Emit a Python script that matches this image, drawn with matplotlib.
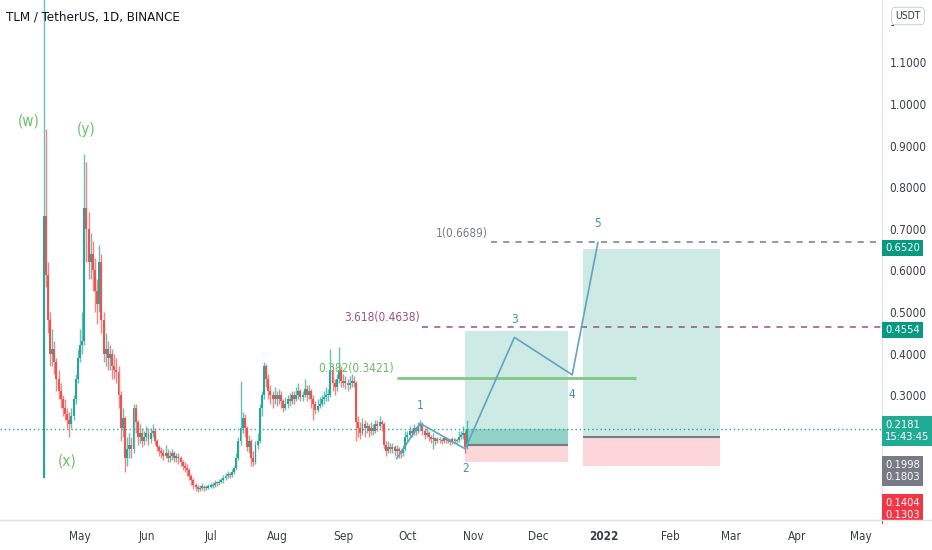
import numpy as np
import pandas as pd
import matplotlib
matplotlib.use('Agg')
import matplotlib.pyplot as plt
import matplotlib.dates as mdates
from matplotlib import font_manager
from matplotlib.patches import Rectangle
from matplotlib.lines import Line2D

# daily TLM/USDT candles, first day 2021-04-14
start = '2021-04-14'
first_open = 0.10
close = [0.73, 0.59, 0.48, 0.40, 0.41, 0.38, 0.34, 0.31, 0.29, 0.27,
         0.255, 0.24, 0.23, 0.25, 0.29, 0.34, 0.39, 0.42, 0.43, 0.75,
         0.70, 0.62, 0.64, 0.60, 0.55, 0.52, 0.62, 0.48, 0.40, 0.41,
         0.39, 0.40, 0.37, 0.36, 0.355, 0.30, 0.22, 0.245, 0.15, 0.17,
         0.18, 0.17, 0.27, 0.235, 0.20, 0.21, 0.19, 0.20, 0.21, 0.195,
         0.21, 0.215, 0.19, 0.175, 0.165, 0.16, 0.155, 0.16, 0.15, 0.155,
         0.16, 0.15, 0.152, 0.148, 0.14, 0.13, 0.125, 0.12, 0.105, 0.095,
         0.085, 0.08, 0.075, 0.078, 0.08, 0.076, 0.078, 0.08, 0.082, 0.085,
         0.09, 0.088, 0.092, 0.095, 0.10, 0.105, 0.11, 0.108, 0.115, 0.125,
         0.15, 0.19, 0.22, 0.245, 0.22, 0.175, 0.19, 0.15, 0.14, 0.18,
         0.19, 0.27, 0.30, 0.37, 0.34, 0.31, 0.30, 0.29, 0.30, 0.29,
         0.30, 0.285, 0.27, 0.28, 0.29, 0.285, 0.30, 0.29, 0.30, 0.31,
         0.295, 0.30, 0.315, 0.30, 0.31, 0.29, 0.28, 0.265, 0.275, 0.28,
         0.29, 0.295, 0.30, 0.30, 0.36, 0.33, 0.32, 0.34, 0.36, 0.335,
         0.33, 0.33, 0.325, 0.33, 0.335, 0.33, 0.235, 0.22, 0.21, 0.23,
         0.22, 0.225, 0.215, 0.22, 0.215, 0.23, 0.225, 0.235, 0.23, 0.18,
         0.165, 0.175, 0.17, 0.175, 0.165, 0.17, 0.165, 0.16, 0.17, 0.20,
         0.205, 0.215, 0.21, 0.22, 0.215, 0.225, 0.23, 0.215, 0.205, 0.21,
         0.20, 0.195, 0.198, 0.19, 0.195, 0.192, 0.19, 0.196, 0.193, 0.19,
         0.188, 0.195, 0.19, 0.192, 0.20, 0.205, 0.21, 0.175, 0.218]
high = [1.60, 0.94, 0.62, 0.50, 0.46, 0.43, 0.39, 0.36, 0.33, 0.30,
        0.29, 0.27, 0.26, 0.27, 0.30, 0.35, 0.41, 0.46, 0.50, 0.88,
        0.86, 0.74, 0.69, 0.67, 0.63, 0.58, 0.66, 0.64, 0.50, 0.45,
        0.43, 0.42, 0.41, 0.40, 0.39, 0.37, 0.31, 0.27, 0.25, 0.20,
        0.21, 0.20, 0.28, 0.28, 0.24, 0.23, 0.22, 0.215, 0.225, 0.22,
        0.22, 0.23, 0.22, 0.195, 0.18, 0.175, 0.17, 0.18, 0.17, 0.165,
        0.17, 0.165, 0.16, 0.16, 0.155, 0.145, 0.14, 0.135, 0.125, 0.11,
        0.10, 0.09, 0.085, 0.085, 0.088, 0.085, 0.084, 0.086, 0.088, 0.092,
        0.096, 0.094, 0.098, 0.102, 0.108, 0.112, 0.118, 0.115, 0.122, 0.13,
        0.16, 0.20, 0.335, 0.26, 0.255, 0.225, 0.205, 0.195, 0.165, 0.19,
        0.21, 0.28, 0.31, 0.38, 0.375, 0.35, 0.325, 0.31, 0.32, 0.31,
        0.315, 0.31, 0.29, 0.295, 0.30, 0.305, 0.31, 0.31, 0.32, 0.33,
        0.315, 0.31, 0.34, 0.325, 0.325, 0.315, 0.30, 0.285, 0.29, 0.295,
        0.30, 0.31, 0.32, 0.315, 0.41, 0.37, 0.34, 0.35, 0.415, 0.37,
        0.35, 0.345, 0.34, 0.345, 0.35, 0.345, 0.335, 0.25, 0.235, 0.245,
        0.24, 0.235, 0.23, 0.235, 0.23, 0.24, 0.24, 0.25, 0.24, 0.235,
        0.19, 0.19, 0.185, 0.185, 0.18, 0.18, 0.175, 0.17, 0.18, 0.215,
        0.215, 0.225, 0.22, 0.23, 0.225, 0.235, 0.24, 0.235, 0.22, 0.22,
        0.215, 0.205, 0.21, 0.20, 0.20, 0.20, 0.198, 0.20, 0.20, 0.198,
        0.195, 0.20, 0.198, 0.198, 0.215, 0.215, 0.225, 0.215, 0.24]
low = [0.10, 0.56, 0.45, 0.37, 0.37, 0.35, 0.31, 0.29, 0.27, 0.25,
       0.24, 0.22, 0.20, 0.22, 0.24, 0.28, 0.33, 0.38, 0.40, 0.42,
       0.62, 0.58, 0.58, 0.55, 0.50, 0.47, 0.50, 0.45, 0.38, 0.37,
       0.36, 0.36, 0.34, 0.34, 0.33, 0.27, 0.19, 0.20, 0.115, 0.13,
       0.15, 0.15, 0.16, 0.21, 0.18, 0.185, 0.175, 0.18, 0.19, 0.18,
       0.185, 0.20, 0.18, 0.165, 0.155, 0.15, 0.145, 0.15, 0.14, 0.14,
       0.145, 0.14, 0.14, 0.135, 0.13, 0.12, 0.115, 0.105, 0.095, 0.085,
       0.075, 0.07, 0.068, 0.07, 0.072, 0.07, 0.072, 0.074, 0.076, 0.078,
       0.08, 0.082, 0.085, 0.088, 0.09, 0.095, 0.10, 0.10, 0.104, 0.11,
       0.12, 0.145, 0.18, 0.21, 0.20, 0.165, 0.16, 0.13, 0.13, 0.135,
       0.17, 0.185, 0.25, 0.29, 0.32, 0.29, 0.28, 0.27, 0.28, 0.275,
       0.28, 0.27, 0.26, 0.265, 0.27, 0.275, 0.28, 0.28, 0.285, 0.29,
       0.285, 0.285, 0.295, 0.285, 0.29, 0.27, 0.24, 0.255, 0.26, 0.27,
       0.275, 0.28, 0.285, 0.285, 0.295, 0.31, 0.30, 0.31, 0.33, 0.32,
       0.32, 0.315, 0.31, 0.315, 0.32, 0.32, 0.19, 0.20, 0.195, 0.205,
       0.20, 0.21, 0.20, 0.205, 0.205, 0.21, 0.215, 0.22, 0.215, 0.17,
       0.155, 0.16, 0.16, 0.16, 0.155, 0.155, 0.15, 0.148, 0.155, 0.165,
       0.19, 0.20, 0.20, 0.205, 0.205, 0.21, 0.215, 0.205, 0.195, 0.20,
       0.19, 0.185, 0.17, 0.18, 0.185, 0.185, 0.183, 0.185, 0.186, 0.184,
       0.18, 0.183, 0.184, 0.185, 0.188, 0.195, 0.195, 0.162, 0.17]

last_price = 0.2181

# elliott count drawn on the chart
wave_dates = ['2021-09-26', '2021-10-07', '2021-10-28', '2021-11-20', '2021-12-17', '2021-12-29']
wave_vals = [0.148, 0.232, 0.171, 0.439, 0.349, 0.667]
wave_names = ['', '1', '2', '3', '4', '5']
corr_labels = ['(w)', '(y)', '(x)']
corr_dates = ['2021-04-07', '2021-05-04', '2021-04-25']
corr_vals = [0.958, 0.939, 0.143]

# fib levels
fib_labels = ['0.382(0.3421)', '3.618(0.4638)', '1(0.6689)']
fib_vals = [0.3421, 0.4638, 0.6689]
fib_start = ['2021-09-26', '2021-10-08', '2021-11-09']
fib_end = ['2022-01-16', None, None]

# long position tools
pos_start = ['2021-10-28', '2021-12-22']
pos_end = ['2021-12-15', '2022-02-24']
pos_target = [0.4554, 0.6520]
pos_entry = [0.1803, 0.1998]
pos_stop = [0.1404, 0.1303]

month_ticks = ['2021-05-01', '2021-06-01', '2021-07-01', '2021-08-01', '2021-09-01',
               '2021-10-01', '2021-11-01', '2021-12-01', '2022-01-01', '2022-02-01',
               '2022-03-01', '2022-04-01', '2022-05-01']
month_labels = ['May', 'Jun', 'Jul', 'Aug', 'Sep', 'Oct', 'Nov', 'Dec', '2022',
                'Feb', 'Mar', 'Apr', 'May']
price_ticks = [0.3, 0.4, 0.5, 0.6, 0.7, 0.8, 0.9, 1.0, 1.1, 1.2]

# look for a narrow face, else fall back to Liberation Sans
fam, stretch = 'Liberation Sans', 'normal'
for f in font_manager.fontManager.ttflist:
    fn = f.fname.lower()
    if ('narrow' in fn or 'condensed' in fn) and not any(k in fn for k in ['bold', 'oblique', 'italic', 'mono', 'serif']):
        fam, stretch = f.name, f.stretch
        break
plt.rcParams['font.family'] = [fam, 'DejaVu Sans']
plt.rcParams['font.stretch'] = stretch
narrow = stretch != 'normal' or 'Narrow' in fam
fs = 8.5 if narrow else 7.5

UP = '#26a69a'
DOWN = '#ef5350'
TXT = '#3a3e49'

def d(s):
    return mdates.date2num(pd.Timestamp(s).to_pydatetime())

W, H = 932, 550
fig = plt.figure(figsize=(W / 100, H / 100), dpi=100)
ax = fig.add_axes([0, 30 / H, 882 / W, 520 / H])

opens = [first_open] + close[:-1]
xs = mdates.date2num(pd.date_range(start, periods=len(close)).to_pydatetime())
o = np.array(opens)
c = np.array(close)
cols = [UP if cc >= oo else DOWN for oo, cc in zip(o, c)]
ax.vlines(xs, low, high, colors=cols, lw=1.0, alpha=0.7, zorder=3)
body = np.maximum(np.abs(c - o), 0.003)
ax.bar(xs, body, bottom=np.minimum(o, c), width=0.9, color=cols, zorder=4)

x0 = d('2021-05-01') - 80 / 2.14
x1 = d('2021-05-01') + (882 - 80) / 2.14
ax.set_xlim(x0, x1)
ax.set_ylim(0, 1.25)

# position boxes
for s, e, tp, en, sl in zip(pos_start, pos_end, pos_target, pos_entry, pos_stop):
    a, b = d(s), d(e)
    ax.add_patch(Rectangle((a, en), b - a, tp - en, fc='#089981', alpha=0.2, ec='none', zorder=1))
    ax.add_patch(Rectangle((a, sl), b - a, en - sl, fc='#f23645', alpha=0.2, ec='none', zorder=1))
    ax.hlines(en, a, b, color='#787b86', lw=1.5, zorder=2)
ax.add_patch(Rectangle((d(pos_start[0]), pos_entry[0]), d(pos_end[0]) - d(pos_start[0]),
                       last_price - pos_entry[0], fc='#089981', alpha=0.3, ec='none', zorder=1))

# fib levels
fib_cols = ['#81c784', '#9c4f85', '#787b86']
fib_off = [6.5, 7, 6]
for lab, v, s, e, col, off in zip(fib_labels, fib_vals, fib_start, fib_end, fib_cols, fib_off):
    a = d(s)
    b = d(e) if e else x1
    if e:
        ax.hlines(v, a, b, color=col, lw=2, zorder=2)
    else:
        ax.hlines(v, a, b, color=col, lw=1.1, linestyles=(0, (4, 4)), zorder=2)
    tcol = '#66bb6a' if e else col
    ax.annotate(lab, (a, v), xytext=(-2, off), textcoords='offset points',
                ha='right', va='center', fontsize=fs, color=tcol, zorder=5)

# current price line
ax.axhline(last_price, color=UP, lw=1, linestyle=(0, (1, 2)), zorder=2)

# wave count
wx = [d(s) for s in wave_dates]
ax.plot(wx, wave_vals, color='#5fa5c3', lw=1.2, zorder=5)
offs = [0, 13, -14, 13, -14, 14]
for xx, vv, nm, of in zip(wx, wave_vals, wave_names, offs):
    if nm:
        ax.annotate(nm, (xx, vv), xytext=(0, of), textcoords='offset points',
                    ha='center', va='center', fontsize=fs, color='#3d8fb5', zorder=6)
for lab, s, v in zip(corr_labels, corr_dates, corr_vals):
    ax.text(d(s), v, lab, ha='center', va='center', fontsize=fs + 2.5, color='#5cb85c', alpha=0.9, zorder=6)

# axes styling
for sp in ['top', 'left']:
    ax.spines[sp].set_visible(False)
ax.spines['bottom'].set_color('#e0e3eb')
ax.spines['right'].set_color('#e0e3eb')
ax.yaxis.tick_right()
ax.set_yticks(price_ticks)
ax.set_yticklabels(['%.4f' % t for t in price_ticks])
ax.tick_params(axis='y', length=0, pad=5.5, labelsize=fs, labelcolor=TXT)
ax.set_xticks([d(s) for s in month_ticks])
ax.set_xticklabels(month_labels)
ax.tick_params(axis='x', length=0, pad=7, labelsize=fs, labelcolor=TXT)
for t in ax.get_xticklabels():
    if t.get_text() == '2022':
        t.set_fontweight('bold')

fig.text(6 / W, 1 - 17 / H, 'TLM / TetherUS, 1D, BINANCE', ha='left', va='center',
         fontsize=fs + 1, color='#131722')

# price scale labels
tfs = fs - 0.5
def tag(y, txt, fc):
    fig.text(885 / W, 1 - y / H, txt, ha='left', va='center', fontsize=tfs, color='white',
             linespacing=1.3, bbox=dict(boxstyle='square,pad=0.3', fc=fc, ec='none'), zorder=5)

tag(248, '%.4f' % pos_target[1], '#089981')
tag(330, '%.4f' % pos_target[0], '#089981')
tag(431, '%.4f\n15:43:45' % last_price, '#22ab94')
tag(471, '%.4f\n%.4f' % (pos_entry[1], pos_entry[0]), '#787b86')
tag(509, '%.4f\n%.4f' % (pos_stop[0], pos_stop[1]), '#f23645')
fig.patches.append(Rectangle((883 / W, 0), 49 / W, 29.5 / H, transform=fig.transFigure,
                             fc='white', ec='none', zorder=7))
fig.lines.append(Line2D([0, 1], [30 / H, 30 / H], transform=fig.transFigure, color='#e0e3eb', lw=1, zorder=8))
# the unit button hides most of the top price label
fig.patches.append(Rectangle((894 / W, 1 - 28 / H), 38 / W, 22 / H, transform=fig.transFigure,
                             fc='white', ec='none', zorder=7))
fig.text(908 / W, 1 - 16 / H, 'USDT', ha='center', va='center', fontsize=fs - 1, color=TXT,
         bbox=dict(boxstyle='round,pad=0.35', fc='white', ec='#d1d4dc', lw=0.8), zorder=8)

plt.savefig('out.png', dpi=100)
